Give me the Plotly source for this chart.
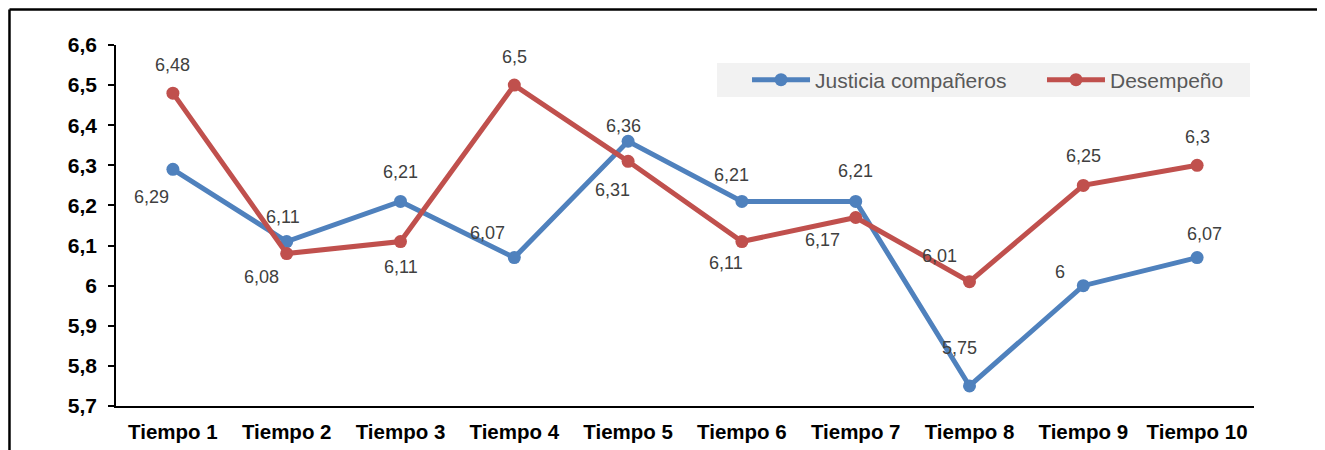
import plotly.graph_objects as go

categories = ["Tiempo 1", "Tiempo 2", "Tiempo 3", "Tiempo 4", "Tiempo 5",
              "Tiempo 6", "Tiempo 7", "Tiempo 8", "Tiempo 9", "Tiempo 10"]
justicia = [6.29, 6.11, 6.21, 6.07, 6.36, 6.21, 6.21, 5.75, 6.00, 6.07]
desempeno = [6.48, 6.08, 6.11, 6.50, 6.31, 6.11, 6.17, 6.01, 6.25, 6.30]
tick_vals = [5.7, 5.8, 5.9, 6.0, 6.1, 6.2, 6.3, 6.4, 6.5, 6.6]
tick_text = ["5,7", "5,8", "5,9", "6", "6,1", "6,2", "6,3", "6,4", "6,5", "6,6"]

# label offsets (pixels) — styling only
just_off = [(-21, -28), (-4, 25), (0, 29), (-27, 25), (-5, 15),
            (-10, 26), (0, 30), (-10, 38), (-23, 14), (7, 24)]
des_off = [(0, 28), (-25, -23), (0, -25), (0, 28), (-16, -29),
           (-16, -21), (-33, -23), (-30, 26), (0, 29), (0, 28)]

BLUE = "#4f81bd"
RED = "#c0504d"
FONT = "Liberation Sans, Arial"


def fmt(v):
    s = ("%.2f" % v).rstrip("0").rstrip(".")
    return s.replace(".", ",")


fig = go.Figure()
fig.add_trace(go.Scatter(x=categories, y=justicia, name="Justicia compañeros",
                         mode="lines+markers", legend="legend",
                         line=dict(color=BLUE, width=5),
                         marker=dict(color=BLUE, size=13)))
fig.add_trace(go.Scatter(x=categories, y=desempeno, name="Desempeño",
                         mode="lines+markers", legend="legend2",
                         line=dict(color=RED, width=5),
                         marker=dict(color=RED, size=13)))

annotations = []
for series, offs in ((justicia, just_off), (desempeno, des_off)):
    for c, v, (dx, dy) in zip(categories, series, offs):
        annotations.append(dict(x=c, y=v, xref="x", yref="y", text=fmt(v),
                                showarrow=False, xshift=dx, yshift=dy,
                                font=dict(family=FONT, size=18, color="#404040")))

shapes = [
    # legend background
    dict(type="rect", xref="paper", yref="paper", x0=0.5281, x1=0.9965,
         y0=0.856, y1=0.9501, fillcolor="#f2f2f2", line=dict(width=0),
         layer="below"),
    # figure border (top and left visible)
    dict(type="line", xref="paper", yref="paper", x0=-0.0936, x1=1.08,
         y0=1.0983, y1=1.0983, line=dict(color="black", width=2.5)),
    dict(type="line", xref="paper", yref="paper", x0=-0.0936, x1=-0.0936,
         y0=1.0983, y1=-0.2, line=dict(color="black", width=2.5)),
]

legend_common = dict(orientation="h", yanchor="middle", xanchor="left",
                     bgcolor="rgba(0,0,0,0)", itemwidth=58,
                     font=dict(family=FONT, size=21, color="#595959"))

fig.update_layout(
    width=1317, height=442,
    margin=dict(l=108, r=71, t=37, b=44, autoexpand=False),
    paper_bgcolor="white", plot_bgcolor="white",
    showlegend=True,
    legend=dict(x=0.5545, y=0.903, **legend_common),
    legend2=dict(x=0.8137, y=0.903, **legend_common),
    annotations=annotations,
    shapes=shapes,
    xaxis=dict(type="category", range=[-0.5, 9.5], showline=True,
               linecolor="black", linewidth=1.5, ticks="", showgrid=False,
               zeroline=False, ticklabelstandoff=7, automargin=False,
               tickfont=dict(family=FONT, size=20.5, color="black", weight="bold")),
    yaxis=dict(range=[5.7, 6.6], tickvals=tick_vals, ticktext=tick_text,
               showline=True, linecolor="black", linewidth=1.5,
               ticks="outside", ticklen=6, tickwidth=1.5, tickcolor="black",
               showgrid=False, zeroline=False, ticklabelstandoff=7,
               automargin=False,
               tickfont=dict(family=FONT, size=21, color="black", weight="bold")),
)

fig.write_html("out.html")
